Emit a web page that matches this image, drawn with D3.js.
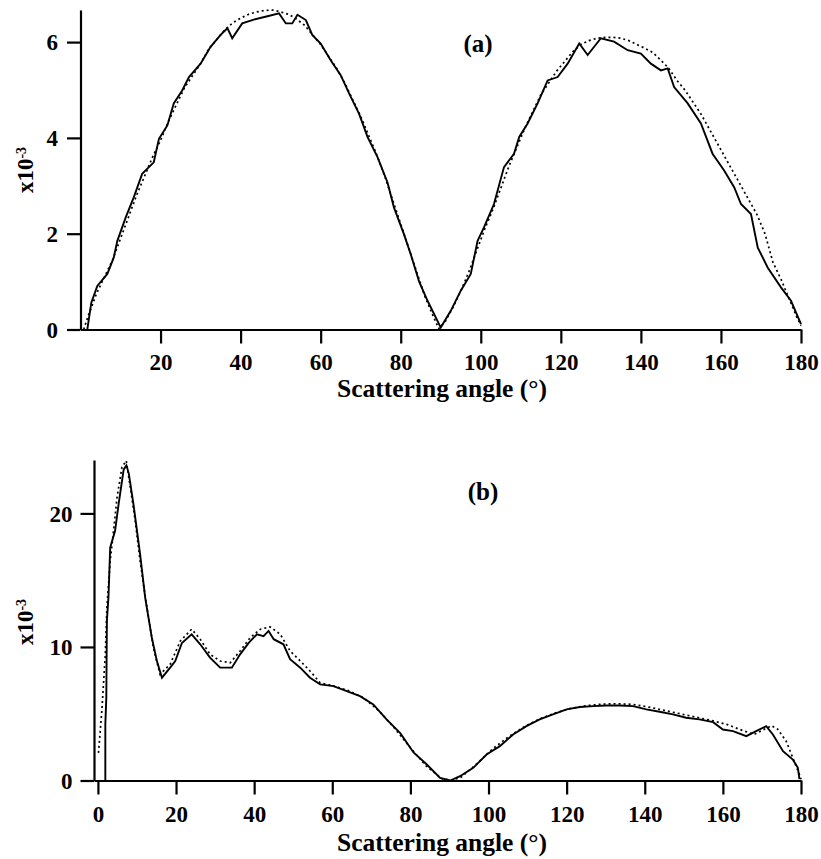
<!DOCTYPE html>
<html lang="en">
<head>
    <meta charset="utf-8">
    <title>Scattering angle</title>
    <script src="https://cdn.jsdelivr.net/npm/d3@7"></script>
    <style>
        body { margin: 0; background: #fff; }
        text { font-family: "Liberation Serif", "Times New Roman", serif; font-weight: bold; fill: #000; }
    </style>
</head>
<body>
<div id="chart"></div>
<script>
    // panel (a): measured (solid) and calculated (dotted)
    const anglesAMeas = [1.7,2.7,4.2,6.7,8.3,9.2,11.3,13.3,15.4,18.3,19.6,21.7,23.3,25.4,27.1,30,32.5,35,36.7,37.9,40.4,43.3,46.7,49.6,51.3,52.9,54.2,56.3,57.9,60,62.5,65,67.1,69.6,71.7,74.2,76.7,78.3,80.8,82.5,84.6,86.7,90,92.5,95,97.5,99.2,100.8,103.3,105.8,108.3,109.6,111.7,114.2,116.7,119.2,121.7,124.6,126.7,130,133.3,136.7,140,142.5,145,146.7,148.3,151.7,155,157.9,160.8,163.3,165,167.5,169.2,171.7,175,177.5,180];
    const valuesAMeas = [0,0.56,0.91,1.16,1.5,1.85,2.34,2.76,3.25,3.49,3.98,4.26,4.72,4.99,5.27,5.55,5.9,6.15,6.29,6.08,6.39,6.47,6.54,6.6,6.39,6.39,6.57,6.46,6.15,5.97,5.62,5.31,4.93,4.5,4.02,3.6,3.07,2.55,1.99,1.57,1.0,0.6,0.04,0.39,0.81,1.16,1.85,2.13,2.62,3.39,3.67,4.02,4.3,4.72,5.2,5.27,5.55,5.97,5.73,6.08,6.01,5.83,5.76,5.55,5.41,5.45,5.06,4.72,4.3,3.67,3.32,2.97,2.62,2.41,1.71,1.29,0.88,0.6,0.11];
    const anglesACalc = [0.8,2,4,6,8,10,12,14,16,18,20,22,24,26,28,30,32,34,36,38,40,42,44,46,48,50,52,54,56,58,60,62,64,66,68,70,72,74,76,78,80,82,84,86,88,89.5,91,93,95,97,99,101,103,105,107,109,111,113,115,117,119,121,123,125,127,129,131,133,135,137,139,141,143,145,147,149,151,153,155,157,159,161,163,165,167,169,171,173,175,177,179,180];
    const valuesACalc = [0,0.3,0.75,1.1,1.45,1.9,2.35,2.8,3.2,3.6,3.95,4.35,4.7,5.05,5.3,5.55,5.85,6.05,6.25,6.4,6.5,6.58,6.63,6.66,6.67,6.63,6.58,6.48,6.35,6.15,5.95,5.7,5.45,5.15,4.8,4.45,4.05,3.65,3.2,2.7,2.2,1.7,1.2,0.7,0.3,0.02,0.15,0.45,0.8,1.2,1.65,2.1,2.5,2.95,3.4,3.8,4.2,4.55,4.9,5.15,5.4,5.6,5.8,5.95,6.03,6.08,6.1,6.1,6.08,6.03,5.95,5.87,5.78,5.62,5.45,5.2,5.0,4.75,4.5,4.2,3.9,3.6,3.3,3.0,2.7,2.4,2.0,1.4,1.05,0.65,0.25,0.08];

    // panel (b): measured (solid) and calculated (dotted)
    const anglesBMeas = [1.9,1.9,2.15,2.3,2.7,3.15,4.4,5.3,6.6,7.3,7.9,9.1,10.8,12.1,13.8,15.1,16.4,18.5,19.8,21.5,24,26.2,28.7,31.3,34.3,36.4,38.6,40.7,42.4,43.7,45,47.5,49.2,51.8,54.3,56.9,60.3,63.7,67.1,70.5,73.9,77.4,80.8,84.2,87.6,90.2,92.7,96.1,99.5,102.9,106.3,109.7,113.1,116.5,120,123.4,126.8,130.2,133.6,137,140.4,143.8,147.2,150.6,154,157.5,160,162.6,166,168.5,171.1,172.8,175.4,177.9,179.2,179.6];
    const valuesBMeas = [0,4.2,6.2,11.95,13.7,17.45,18.7,20.7,23.3,23.6,23.0,20.7,16.95,13.7,10.7,8.95,7.7,8.45,8.95,10.3,10.95,10.2,9.2,8.45,8.45,9.45,10.3,10.95,10.8,11.2,10.58,10.2,9.08,8.45,7.7,7.2,7.07,6.7,6.32,5.7,4.58,3.55,2.1,1.2,0.2,0,0.32,0.95,1.95,2.57,3.45,4.07,4.58,4.95,5.33,5.5,5.57,5.62,5.62,5.57,5.33,5.15,4.95,4.7,4.58,4.37,3.82,3.7,3.32,3.7,4.07,3.45,2.2,1.57,0.95,0.1];
    const anglesBCalc = [0.15,1.0,1.9,2.3,3.15,4,4.9,6.15,7.25,8.3,9.55,10.8,12.55,14.2,15.9,18.5,21.1,24,26.2,28.7,31.3,33.9,36.4,39,41.6,44.1,46.7,49.2,51.8,54.3,56.9,60,64,68,72,76,80,84,88,90.5,93,97,101,105,109,113,117,121,125,129,133,137,141,145,149,153,157,161,165,168,171,172.5,174,176.2,177.9,179.6,180];
    const valuesBCalc = [2.07,5.2,9.45,12.95,16.45,18.7,21.2,23.45,23.95,21.95,19.45,16.45,12.95,9.95,7.95,8.7,10.45,11.33,10.58,9.45,8.95,8.82,9.7,10.7,11.33,11.5,10.95,9.7,8.95,8.2,7.32,7.1,6.75,6.2,5.2,3.9,2.45,1.1,0.15,0,0.25,1.25,2.35,3.25,4.0,4.6,5.05,5.4,5.6,5.72,5.75,5.7,5.5,5.25,5.0,4.75,4.5,4.2,3.75,3.45,3.9,4.1,3.85,2.95,1.7,0.45,0.1];

    const ticksXA = [20,40,60,80,100,120,140,160,180];
    const ticksYA = [0,2,4,6];
    const ticksXB = [0,20,40,60,80,100,120,140,160,180];
    const ticksYB = [0,10,20];

    const svg = d3.select("#chart")
        .append("svg")
            .attr("width", 821)
            .attr("height", 859);

    function drawPanel(opt) {
        const x = d3.scaleLinear().domain(opt.xDomain).range([opt.left, opt.right]);
        const y = d3.scaleLinear().domain(opt.yDomain).range([opt.bottom, opt.top]);
        const g = svg.append("g");

        // x axis
        const xAxis = g.append("g")
            .attr("transform", "translate(0," + opt.bottom + ")")
            .call(d3.axisBottom(x).tickValues(opt.xTicks).tickFormat(d3.format("d"))
                .tickSize(14).tickPadding(opt.xPad).tickSizeOuter(0));
        // y axis
        const yAxis = g.append("g")
            .attr("transform", "translate(" + opt.left + ",0)")
            .call(d3.axisLeft(y).tickValues(opt.yTicks).tickFormat(d3.format("d"))
                .tickSize(13.5).tickPadding(opt.yPad).tickSizeOuter(0));

        [xAxis, yAxis].forEach(a => {
            a.attr("font-family", null).attr("font-size", null);
            a.select(".domain").attr("stroke", "#000").attr("stroke-width", 2.2);
            a.selectAll(".tick line").attr("stroke", "#000").attr("stroke-width", 2.2);
            a.selectAll(".tick text")
                .attr("fill", "#000")
                .style("font-size", "23px");
        });
        yAxis.selectAll(".tick text").attr("dy", "0.33em");

        const line = d3.line().x(d => x(d[0])).y(d => y(d[1]));

        // calculated curve (dotted)
        g.append("path")
            .datum(opt.calcX.map((a, i) => [a, opt.calcY[i]]))
            .attr("fill", "none")
            .attr("stroke", "#000")
            .attr("stroke-width", 1.7)
            .attr("stroke-dasharray", "2,3")
            .attr("d", line);

        // measured curve (solid)
        g.append("path")
            .datum(opt.measX.map((a, i) => [a, opt.measY[i]]))
            .attr("fill", "none")
            .attr("stroke", "#000")
            .attr("stroke-width", 1.9)
            .attr("d", line);

        // x axis label
        g.append("text")
            .attr("x", 442)
            .attr("y", opt.xLabelY)
            .attr("text-anchor", "middle")
            .style("font-size", "25.5px")
            .text("Scattering angle (°)");

        // y axis label
        const yl = g.append("text")
            .attr("transform", "translate(33," + opt.yLabelY + ") rotate(-90)")
            .attr("text-anchor", "middle")
            .style("font-size", "23px");
        yl.append("tspan").text("x10");
        yl.append("tspan").attr("dy", "-0.5em").style("font-size", "14px").text("-3");

        // panel tag
        g.append("text")
            .attr("x", opt.tagX)
            .attr("y", opt.tagY)
            .attr("text-anchor", "middle")
            .style("font-size", "25px")
            .text(opt.tag);
    }

    drawPanel({
        xDomain: [0, 180], yDomain: [0, 6.67],
        left: 80.5, right: 801, top: 10, bottom: 329.5,
        xTicks: ticksXA, yTicks: ticksYA, xPad: 10, yPad: 9,
        measX: anglesAMeas, measY: valuesAMeas,
        calcX: anglesACalc, calcY: valuesACalc,
        xLabelY: 397, yLabelY: 170, tag: "(a)", tagX: 478, tagY: 52
    });

    drawPanel({
        xDomain: [-1, 180], yDomain: [0, 24],
        left: 94, right: 801, top: 460, bottom: 780.5,
        xTicks: ticksXB, yTicks: ticksYB, xPad: 11, yPad: 8,
        measX: anglesBMeas, measY: valuesBMeas,
        calcX: anglesBCalc, calcY: valuesBCalc,
        xLabelY: 851, yLabelY: 622, tag: "(b)", tagX: 483, tagY: 500
    });
</script>
</body>
</html>
